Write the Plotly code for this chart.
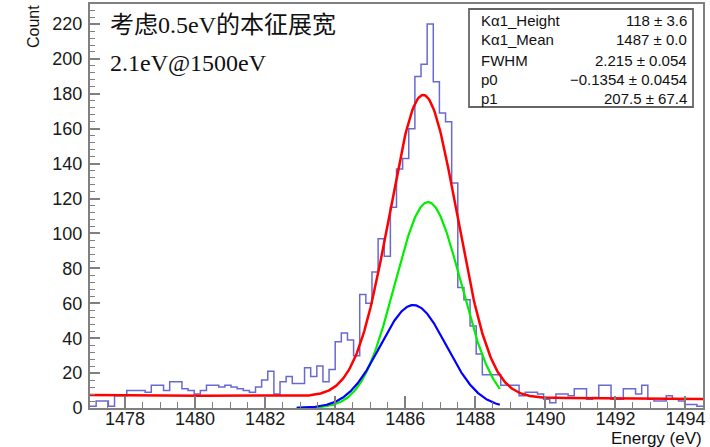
import numpy as np
import plotly.graph_objects as go

# ---------------- data ----------------
x_min, x_max = 1477.0, 1494.5
counts = [
    1, 4, 4, 1, 7, 7, 10, 10, 10, 9,
    13, 13, 10, 15, 15, 11, 10, 8, 10, 13,
    13, 12, 13, 12, 11, 10, 9, 12, 16, 21,
    8, 15, 18, 14, 14, 23, 18, 24, 15, 22,
    38, 43, 39, 30, 65, 60, 78, 97, 87, 115,
    137, 143, 160, 190, 197, 220, 187, 169, 164, 129,
    69, 62, 47, 31, 19, 19, 19, 13, 13, 13,
    7, 9, 9, 8, 5, 3, 8, 8, 7, 11,
    11, 5, 6, 13, 13, 5, 5, 11, 11, 8,
    13, 5, 4, 4, 7, 5, 4, 2, 2, 1,
]

stat_names = ["Kα1_Height", "Kα1_Mean", "FWHM", "p0", "p1"]
stat_values = ["118 ± 3.6", "1487 ± 0.0", "2.215 ± 0.054", "−0.1354 ± 0.0454", "207.5 ± 67.4"]

# fit parameters
ka1_height = 118.0
ka1_mean = 1486.65
fwhm = 2.215
p0 = -0.1354
p1 = 207.5
ka2_ratio = 0.5
ka2_shift = -0.42
comp_range = [1482.9, 1488.7]

y_ticks = [0, 20, 40, 60, 80, 100, 120, 140, 160, 180, 200, 220]
x_ticks = [1478, 1480, 1482, 1484, 1486, 1488, 1490, 1492, 1494]

# ---------------- derived ----------------
n_bins = len(counts)
bin_w = (x_max - x_min) / n_bins
edges = x_min + bin_w * np.arange(n_bins + 1)
sigma = fwhm / (2 * np.sqrt(2 * np.log(2)))


def gauss(x, h, m):
    return h * np.exp(-0.5 * ((x - m) / sigma) ** 2)


def bg(x):
    return p0 * x + p1


xf = np.linspace(x_min, x_max, 600)
xc = np.linspace(comp_range[0], comp_range[1], 300)
total = gauss(xf, ka1_height, ka1_mean) + gauss(xf, ka1_height * ka2_ratio, ka1_mean + ka2_shift) + bg(xf)
g1 = gauss(xc, ka1_height, ka1_mean)
g2 = gauss(xc, ka1_height * ka2_ratio, ka1_mean + ka2_shift)

# ---------------- figure ----------------
W, H = 710, 447
PL, PR, PT, PB = 90, 703, 4, 408


def px(x):
    return (x - PL) / (PR - PL)


def py(y):
    return (PB - y) / (PB - PT)


fig = go.Figure()
fig.add_trace(go.Scatter(
    x=list(edges), y=counts + [counts[-1]], mode="lines", line_shape="hv",
    line=dict(color="rgb(105,105,210)", width=1.5), showlegend=False, hoverinfo="skip"))
fig.add_trace(go.Scatter(x=xf, y=total, mode="lines",
                         line=dict(color="#ff0000", width=2.5), showlegend=False))
fig.add_trace(go.Scatter(x=xc, y=g1, mode="lines",
                         line=dict(color="#00ee00", width=2.2), showlegend=False))
fig.add_trace(go.Scatter(x=xc, y=g2, mode="lines",
                         line=dict(color="#0000ff", width=2.2), showlegend=False))

axis_col = "#808080"
tick_font = dict(family="Liberation Sans, Arial, sans-serif", size=18, color="#1a1a1a")

fig.update_xaxes(
    range=[x_min, x_max], tickvals=x_ticks, ticks="inside", ticklen=12, tickwidth=1.5,
    tickcolor=axis_col, showline=True, linecolor=axis_col, linewidth=2, mirror=True,
    showgrid=False, zeroline=False, tickfont=tick_font, automargin=False,
    ticklabelstandoff=-7,
    minor=dict(ticks="inside", ticklen=6, dtick=0.5, tick0=1478, tickcolor=axis_col, tickwidth=1),
)
fig.update_yaxes(
    range=[0, 231.5], tickvals=y_ticks, ticks="inside", ticklen=10, tickwidth=1.5,
    tickcolor=axis_col, showline=True, linecolor=axis_col, linewidth=2, mirror=True,
    showgrid=False, zeroline=False, tickfont=tick_font, ticklabelstandoff=2, automargin=False,
    minor=dict(ticks="inside", ticklen=5, dtick=4, tick0=0, tickcolor=axis_col, tickwidth=1),
)

shapes = [dict(type="rect", xref="paper", yref="paper",
               x0=px(469), x1=px(693), y0=py(107), y1=py(9),
               line=dict(color="#666666", width=1.8), fillcolor="white", layer="above")]

annotations = []
stat_font = dict(family="Liberation Sans, Arial, sans-serif", size=15, color="#111111")
row_y = [20.5, 40, 60, 79.5, 98.5]
for name, val, yy in zip(stat_names, stat_values, row_y):
    annotations.append(dict(text=name, xref="paper", yref="paper", x=px(479), y=py(yy),
                            xanchor="left", yanchor="middle", showarrow=False, font=stat_font))
    annotations.append(dict(text=val, xref="paper", yref="paper", x=px(689), y=py(yy),
                            xanchor="right", yanchor="middle", showarrow=False, font=stat_font))

txt_font = dict(family="Liberation Serif, Noto Sans CJK SC, serif", size=24, color="#111111")
annotations.append(dict(text="考虑0.5eV的本征展宽", xref="paper", yref="paper", x=px(108), y=py(25),
                        xanchor="left", yanchor="middle", showarrow=False, font=txt_font))
annotations.append(dict(text="2.1eV@1500eV", xref="paper", yref="paper", x=px(108), y=py(63),
                        xanchor="left", yanchor="middle", showarrow=False, font=txt_font))

annotations.append(dict(text="Count", xref="paper", yref="paper", x=px(33), y=py(27),
                        xanchor="center", yanchor="middle", showarrow=False, textangle=-90,
                        font=dict(family="Liberation Sans, Arial, sans-serif", size=16, color="#111111")))
annotations.append(dict(text="Energy (eV)", xref="paper", yref="paper", x=px(704), y=py(438),
                        xanchor="right", yanchor="middle", showarrow=False,
                        font=dict(family="Liberation Sans, Arial, sans-serif", size=17, color="#111111")))

fig.update_layout(
    width=W, height=H, margin=dict(l=PL, r=W - PR, t=PT, b=H - PB),
    paper_bgcolor="white", plot_bgcolor="white",
    shapes=shapes, annotations=annotations, showlegend=False,
)

fig.write_html("out.html", config={"displayModeBar": False},
               post_script="document.body.style.margin='0';document.body.style.padding='0';"
                           "document.documentElement.style.overflow='hidden';")
